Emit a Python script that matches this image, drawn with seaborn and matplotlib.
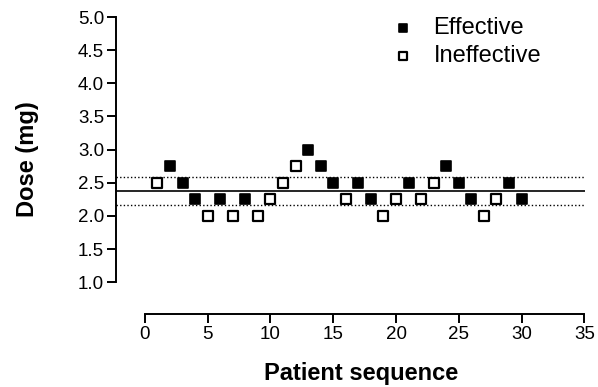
import numpy as np
import pandas as pd
import matplotlib
matplotlib.use('Agg')
import matplotlib.pyplot as plt
import seaborn as sns

# up-and-down sequence: patient number, dose (mg), outcome
patient = list(range(1, 31))
dose = [2.5, 2.75, 2.5, 2.25, 2.0, 2.25, 2.0, 2.25, 2.0, 2.25,
        2.5, 2.75, 3.0, 2.75, 2.5, 2.25, 2.5, 2.25, 2.0, 2.25,
        2.5, 2.25, 2.5, 2.75, 2.5, 2.25, 2.0, 2.25, 2.5, 2.25]
outcome = ['Ineffective', 'Effective', 'Effective', 'Effective', 'Ineffective',
           'Effective', 'Ineffective', 'Effective', 'Ineffective', 'Ineffective',
           'Ineffective', 'Ineffective', 'Effective', 'Effective', 'Effective',
           'Ineffective', 'Effective', 'Effective', 'Ineffective', 'Ineffective',
           'Effective', 'Ineffective', 'Ineffective', 'Effective', 'Effective',
           'Effective', 'Ineffective', 'Ineffective', 'Effective', 'Effective']

ed50 = 2.37          # estimated effective dose
ci = [2.17, 2.58]    # confidence limits

x_ticks = [0, 5, 10, 15, 20, 25, 30, 35]
y_ticks = [1.0, 1.5, 2.0, 2.5, 3.0, 3.5, 4.0, 4.5, 5.0]

df = pd.DataFrame({'patient': patient, 'dose': dose, 'outcome': outcome})

sns.set_style('ticks')
plt.rcParams['font.family'] = ['Liberation Sans', 'DejaVu Sans']
plt.rcParams['text.color'] = 'black'
plt.rcParams['axes.labelcolor'] = 'black'

fig = plt.figure(figsize=(5.98, 3.87), dpi=100)
ax = fig.add_axes([116 / 598, 73 / 387, (585 - 116) / 598, (314 - 17) / 387])

eff = df[df['outcome'] == 'Effective']
ineff = df[df['outcome'] == 'Ineffective']

sns.scatterplot(x=eff['patient'], y=eff['dose'], ax=ax, marker='s', s=60,
                color='black', edgecolor='black', linewidth=1.2,
                label='Effective', zorder=3)
sns.scatterplot(x=ineff['patient'], y=ineff['dose'], ax=ax, marker='s', s=60,
                color='white', edgecolor='black', linewidth=1.6,
                label='Ineffective', zorder=3)

ax.axhline(ed50, color='black', lw=1.2, zorder=1)
for c in ci:
    ax.axhline(c, color='black', lw=1.0, ls=(0, (1, 1.6)), zorder=1)

ax.set_xlim(-2.3, 35.05)
ax.set_ylim(0.52, 5.0)
ax.set_xticks(x_ticks)
ax.set_yticks(y_ticks)
ax.set_yticklabels([f'{v:.1f}' for v in y_ticks])
ax.spines['left'].set_bounds(1.0, 5.0)
ax.spines['bottom'].set_bounds(0, 35)
for s in ['left', 'bottom']:
    ax.spines[s].set_linewidth(1.4)
    ax.spines[s].set_color('black')
sns.despine(ax=ax)
ax.tick_params(axis='both', length=6.5, width=1.4, labelsize=13.5, colors='black', pad=2)

ax.set_xlabel('Patient sequence', fontsize=17, fontweight='bold')
ax.set_ylabel('Dose (mg)', fontsize=17, fontweight='bold')
ax.xaxis.set_label_coords(0.523, -0.16)
ax.yaxis.set_label_coords(-0.165, 0.52)

ax.legend(loc='upper right', bbox_to_anchor=(0.952, 1.07), frameon=False,
          fontsize=17, handletextpad=0.3, markerscale=0.7, labelspacing=0.25)

fig.savefig('out.png', dpi=100)
